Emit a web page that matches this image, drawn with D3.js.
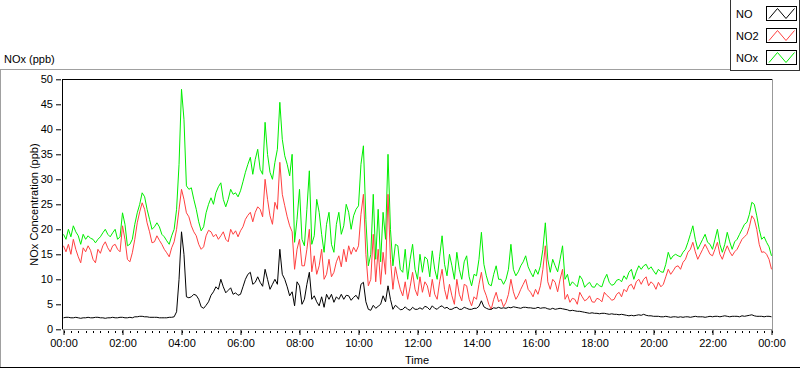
<!DOCTYPE html>
<html>
<head>
<meta charset="utf-8">
<script src="https://cdn.jsdelivr.net/npm/d3@7"></script>
<style>
  body { margin: 0; background: #fff; }
  text { font-family: "Liberation Sans", Arial, sans-serif; font-size: 11px; fill: #000; }
</style>
</head>
<body>
<div id="chart"></div>
<script>

// samples every 5 minutes, 00:00 -> 24:00 (one row per hour)
var stepMinutes = 5;

var seriesNames = ["NO", "NO2", "NOx"];

var noValues = [
  2.3, 2.4, 2.4, 2.3, 2.3, 2.4, 2.3, 2.2, 2.3, 2.3, 2.4, 2.3,      // 00:00
  2.3, 2.4, 2.4, 2.3, 2.3, 2.2, 2.3, 2.3, 2.4, 2.3, 2.3, 2.4,      // 01:00
  2.4, 2.3, 2.3, 2.4, 2.3, 2.5, 2.5, 2.6, 2.6, 2.5, 2.5, 2.4,      // 02:00
  2.4, 2.4, 2.4, 2.3, 2.3, 2.3, 2.3, 2.4, 2.4, 2.5, 3.5, 10,       // 03:00
  19.5, 15, 6.5, 6.3, 6.5, 7, 6.8, 6, 4.5, 4.2, 4.8, 5.5,          // 04:00
  6.8, 7.5, 8.5, 8, 10, 8.5, 7.3, 7.8, 8.3, 7, 7.3, 6.8,           // 05:00
  7, 8.5, 10, 11, 11.4, 9, 9.4, 10.5, 9.4, 8.6, 12, 10,            // 06:00
  8, 9, 10, 9, 16, 11, 10, 8.5, 6.7, 7.5, 4.7, 9.5,                // 07:00
  8.7, 5, 6, 9, 11.4, 6, 6.7, 5.5, 4.7, 6.5, 4.4, 7,               // 08:00
  6, 7, 5.4, 6.5, 6, 7, 6, 6.8, 6.7, 5.8, 6.4, 6.8,                // 09:00
  6, 9, 9.4, 5.5, 4, 3.8, 4.8, 4.2, 4.6, 5, 6.7, 5.5,              // 10:00
  8.7, 6, 4, 4.8, 4.4, 3.9, 4, 4.5, 4, 3.8, 4.4, 4,                // 11:00
  4, 4.3, 4, 4.6, 4.4, 3.9, 4.7, 4.2, 4, 4.5, 4.7, 4.2,            // 12:00
  4.4, 4, 4, 4.3, 4.4, 4, 4, 4.4, 4.2, 4, 4, 4.2,                  // 13:00
  4.2, 4.6, 5.7, 4.5, 4.2, 4, 4, 4.3, 4.2, 4.4, 4.2, 4.3,          // 14:00
  4.2, 4.4, 4.3, 4.5, 4.4, 4.3, 4.2, 4.4, 4.4, 4.3, 4.3, 4.2,      // 15:00
  4.2, 4.4, 4.2, 4.3, 4.3, 4.1, 4, 4.2, 4, 4.1, 4.2, 4.1,          // 16:00
  4, 3.9, 3.7, 3.8, 3.7, 3.6, 3.6, 3.5, 3.4, 3.3, 3.2, 3.3,        // 17:00
  3.2, 3.2, 3.1, 3.2, 3.2, 3.1, 3, 3.1, 3, 3, 2.9, 3,              // 18:00
  2.9, 2.8, 2.7, 2.8, 2.7, 2.8, 2.9, 2.8, 3, 2.8, 2.7, 2.7,        // 19:00
  2.6, 2.6, 2.6, 2.5, 2.5, 2.6, 2.5, 2.4, 2.5, 2.5, 2.4, 2.5,      // 20:00
  2.4, 2.5, 2.5, 2.4, 2.5, 2.6, 2.5, 2.5, 2.5, 2.4, 2.5, 2.6,      // 21:00
  2.5, 2.6, 2.6, 2.5, 2.6, 2.7, 2.6, 2.5, 2.6, 2.6, 2.6, 2.5,      // 22:00
  2.7, 2.6, 2.7, 2.8, 2.9, 2.7, 2.6, 2.6, 2.6, 2.5, 2.6, 2.6,      // 23:00
  2.5                                                              // 24:00
];

var no2Values = [
  16.7, 15.5, 17, 15, 18, 16, 14.5, 13.3, 16.3, 15.5, 16.7, 15.8,  // 00:00
  14, 13.3, 16, 15.2, 16.7, 17.5, 16.3, 15.5, 16.7, 17, 16, 15.5,  // 01:00
  20.7, 18, 14, 13.5, 15.3, 18, 21.3, 23.5, 25.3, 24, 21.3, 19.5,  // 02:00
  17.3, 17.5, 18.7, 17.8, 17, 16, 15.3, 14.5, 16.3, 17.5, 20, 24,  // 03:00
  28, 26, 23.3, 22.5, 20.7, 19.5, 18.7, 17, 16, 16.5, 18.7, 19.8,  // 04:00
  19.5, 18.5, 19, 18, 18.7, 19.5, 18, 17.5, 20, 19, 19.7, 18.5,    // 05:00
  19.7, 20.5, 22, 22.8, 23.4, 21.5, 23.4, 24.5, 24, 22.5, 30, 26,  // 06:00
  22.7, 21, 25.4, 24, 33.4, 27, 24.7, 22.5, 20.7, 19.5, 12, 16,    // 07:00
  18, 12.7, 12.7, 16, 20, 11.5, 14.7, 11, 12.7, 16, 10, 11,        // 08:00
  14, 10.5, 11.4, 13.5, 14.7, 12.5, 16, 13.5, 16.7, 15, 16.4, 15.5, // 09:00
  16.7, 23, 27, 15, 8.7, 10, 19, 9.5, 16, 9, 15.4, 11,             // 10:00
  27, 14, 8, 12.5, 10, 8, 6.7, 9.5, 6, 8.5, 11.4, 8,               // 11:00
  6.7, 10.5, 7.4, 9.5, 8.7, 6.5, 10, 7, 6, 9.5, 12, 8,             // 12:00
  6, 9, 6.7, 5, 10, 7, 5.7, 9, 8.7, 6, 4.7, 6.5,                   // 13:00
  6, 9, 11.4, 8, 6.7, 5, 4, 6, 7.4, 5.5, 6, 4.5,                   // 14:00
  5.4, 7, 10, 7.5, 6, 6.8, 8, 9, 10, 8, 7.4, 6.5,                  // 15:00
  8, 7, 8.7, 12, 16.7, 9.5, 8, 10, 9.4, 7.5, 10, 12,               // 16:00
  6, 7, 5.4, 6.2, 6, 5, 7.4, 6.5, 5.7, 6, 6.7, 5.5,                // 17:00
  5.4, 6.2, 6, 5.5, 7.4, 6.8, 6.4, 5.8, 6, 7, 7.4, 6.5,            // 18:00
  8, 7.5, 8.7, 9, 8, 9.5, 10, 9, 10, 10.5, 8.7, 9.5,               // 19:00
  9, 8, 9.4, 8.5, 9, 10.5, 12, 11, 11.7, 12.5, 12.7, 12,           // 20:00
  13.4, 14, 15.4, 16, 17.4, 15.5, 14, 15, 16, 17, 16, 15,          // 21:00
  14.7, 16, 17.4, 15, 14, 15.5, 16.7, 15.5, 14.7, 15.5, 16, 17,    // 22:00
  18, 18.5, 19, 20.5, 22.7, 22, 20, 17, 15.4, 15.5, 15, 14,        // 23:00
  12                                                               // 24:00
];

var noxValues = [
  19, 18, 20, 18.5, 20.7, 19.5, 18.7, 17, 19, 18, 18.7, 18.2,      // 00:00
  18, 17.3, 18, 18.5, 19.3, 20, 19, 18.5, 19.3, 20, 18, 18.5,      // 01:00
  23.3, 21, 16.7, 17, 18, 21, 23.3, 25, 27.3, 26.5, 24, 22,        // 02:00
  20, 20.5, 21.3, 20.5, 19, 18.5, 17.7, 17, 18.7, 20, 24, 33,      // 03:00
  48, 42, 28.7, 28, 28.3, 26, 24, 21.5, 19.7, 20.5, 23.3, 25,      // 04:00
  26.3, 25, 27.3, 28.5, 29.3, 26, 24.5, 26, 28, 27, 27.3, 26.5,    // 05:00
  27.7, 29.5, 31.4, 33, 34.4, 31, 34, 36, 32, 31, 41.4, 35,        // 06:00
  31.4, 30, 33.4, 36, 45.4, 38, 34.7, 33, 30.7, 35, 17.4, 22,      // 07:00
  28, 18, 16.7, 24, 31.7, 17, 18.7, 26, 23.4, 19, 15.4, 21,        // 08:00
  23.4, 17, 15.4, 21, 23.4, 19, 20.7, 25, 23.4, 20, 22.7, 24,      // 09:00
  24.7, 33, 36.7, 22, 12.7, 15, 27, 14, 24, 13.5, 23.4, 18,        // 10:00
  35, 20, 12.7, 17, 16.7, 12, 11.4, 16, 10, 14, 17, 12,            // 11:00
  10, 15, 11.4, 14.5, 14, 10.5, 15.7, 12, 10, 14.5, 18.7, 13,      // 12:00
  10.7, 15, 12.7, 10, 15.4, 12, 10, 13.5, 14.7, 10.5, 8.7, 11,     // 13:00
  10.7, 14, 19.4, 13, 10.7, 9, 8.7, 11, 12.7, 10, 10, 9,           // 14:00
  10, 12, 17, 12, 10.7, 11.5, 12.7, 13.5, 14.7, 12.5, 11.4, 10.5,  // 15:00
  12, 11, 12.7, 16, 21.3, 14, 11.4, 14, 12.7, 11.5, 14, 16.7,      // 16:00
  10, 11, 8.7, 9.5, 9, 8.5, 10.7, 10, 8.4, 9, 9.4, 8.5,            // 17:00
  8.4, 9.2, 8.7, 8.5, 10, 11, 9.4, 8.8, 9, 9.8, 10, 9.5,           // 18:00
  10.7, 10, 11.4, 12, 10, 11.5, 12.7, 12, 12.7, 13, 12, 12.5,      // 19:00
  11.7, 11, 12, 11.5, 11.4, 13, 15.4, 14, 14.7, 15, 14.7, 14.5,    // 20:00
  15.4, 16, 17.4, 19, 20.7, 18, 16, 17, 18, 19, 17.4, 17,          // 21:00
  16, 18, 20, 17, 15.4, 17, 19.4, 17.5, 16, 17.5, 18, 19,          // 22:00
  20, 21, 21.4, 23, 25.4, 25, 22.7, 20, 18, 18.5, 17.4, 16.5,      // 23:00
  14.7                                                             // 24:00
];

var seriesColors = ["#000000", "#ff4040", "#00ee00"];

var xTickHours = [0, 2, 4, 6, 8, 10, 12, 14, 16, 18, 20, 22, 24];
var xTickLabels = ["00:00", "02:00", "04:00", "06:00", "08:00", "10:00", "12:00",
                   "14:00", "16:00", "18:00", "20:00", "22:00", "00:00"];
var yTickValues = [0, 5, 10, 15, 20, 25, 30, 35, 40, 45, 50];

//--------------------------------------------------------------------------
//
// chart
//

var outerWidth = 800,
    outerHeight = 369;

var plot = {left: 62, top: 79, right: 772, bottom: 330};

var svg = d3.select("#chart").append("svg")
    .attr("width", outerWidth)
    .attr("height", outerHeight);

// panel frame
svg.append("line").attr("x1", 0).attr("x2", 730).attr("y1", 69.5).attr("y2", 69.5)
    .attr("stroke", "#a0a0a0");
svg.append("line").attr("x1", 0.5).attr("x2", 0.5).attr("y1", 69).attr("y2", 368)
    .attr("stroke", "#a0a0a0");
svg.append("line").attr("x1", 0).attr("x2", 800).attr("y1", 367.5).attr("y2", 367.5)
    .attr("stroke", "#000");

svg.append("text")
    .attr("x", 4)
    .attr("y", 63)
    .text("NOx (ppb)");

// scales
var x = d3.scaleLinear().domain([0, 24]).range([63.5, 771.5]);
var y = d3.scaleLinear().domain([0, 50]).range([329.3, 79.3]);

// plot area frame
svg.append("rect")
    .attr("x", plot.left)
    .attr("y", plot.top)
    .attr("width", plot.right - plot.left)
    .attr("height", plot.bottom - plot.top)
    .attr("fill", "#fff");

svg.append("clipPath")
    .attr("id", "plot-area")
    .append("rect")
    .attr("x", plot.left + 1)
    .attr("y", plot.top + 1)
    .attr("width", plot.right - plot.left - 1)
    .attr("height", plot.bottom - plot.top - 1);

// data lines
var allSeries = [noValues, no2Values, noxValues];
var line = d3.line()
    .x(function(d, i) { return x(i * stepMinutes / 60); })
    .y(function(d) { return y(d); });

var lines = svg.append("g").attr("clip-path", "url(#plot-area)");
[2, 1, 0].forEach(function(s) {
  lines.append("path")
      .datum(allSeries[s])
      .attr("fill", "none")
      .attr("stroke", seriesColors[s])
      .attr("stroke-width", 1)
      .attr("stroke-linejoin", "miter")
      .attr("d", line);
});

svg.append("line").attr("x1", plot.left).attr("x2", plot.right)
    .attr("y1", plot.top + 0.5).attr("y2", plot.top + 0.5).attr("stroke", "#000");
svg.append("line").attr("x1", plot.left + 0.5).attr("x2", plot.left + 0.5)
    .attr("y1", plot.top).attr("y2", plot.bottom).attr("stroke", "#000");
svg.append("line").attr("x1", plot.left).attr("x2", plot.right + 1)
    .attr("y1", plot.bottom - 0.5).attr("y2", plot.bottom - 0.5).attr("stroke", "#999");
svg.append("line").attr("x1", plot.right + 0.5).attr("x2", plot.right + 0.5)
    .attr("y1", plot.top).attr("y2", plot.bottom).attr("stroke", "#999");

// y axis
var yAxis = d3.axisLeft(y)
    .tickValues(yTickValues)
    .tickSize(5)
    .tickPadding(3);

var yG = svg.append("g")
    .attr("transform", "translate(" + (plot.left - 1) + ",0)")
    .call(yAxis);
yG.select(".domain").remove();
yG.selectAll("text").style("font-family", "Liberation Sans, Arial, sans-serif")
    .style("font-size", "11px").attr("fill", "#000");

svg.append("text")
    .attr("transform", "translate(38," + ((plot.top + plot.bottom) / 2) + ") rotate(-90)")
    .attr("text-anchor", "middle")
    .text("NOx Concentration (ppb)");

// x axis, minor ticks every 15 minutes
var minorHours = d3.range(0, 24.01, 0.25);
svg.append("g")
    .selectAll("line")
    .data(minorHours)
    .enter().append("line")
    .attr("x1", function(d) { return Math.round(x(d)) + 0.5; })
    .attr("x2", function(d) { return Math.round(x(d)) + 0.5; })
    .attr("y1", plot.bottom + 1)
    .attr("y2", plot.bottom + 3)
    .attr("stroke", "#000");

var xAxis = d3.axisBottom(x)
    .tickValues(xTickHours)
    .tickFormat(function(d, i) { return xTickLabels[i]; })
    .tickSize(5)
    .tickPadding(4);

var xG = svg.append("g")
    .attr("transform", "translate(0," + plot.bottom + ")")
    .call(xAxis);
xG.select(".domain").remove();
xG.selectAll("text").style("font-family", "Liberation Sans, Arial, sans-serif")
    .style("font-size", "11px").attr("fill", "#000");

svg.append("text")
    .attr("x", 417)
    .attr("y", 364)
    .attr("text-anchor", "middle")
    .text("Time");

//--------------------------------------------------------------------------
//
// legend
//

var legend = svg.append("g");

legend.append("rect")
    .attr("x", 730.5)
    .attr("y", -1)
    .attr("width", 69)
    .attr("height", 71.5)
    .attr("fill", "#fff")
    .attr("stroke", "#333");

var items = legend.selectAll(".item")
    .data(seriesNames)
    .enter().append("g")
    .attr("class", "item")
    .attr("transform", function(d, i) { return "translate(0," + (i * 22) + ")"; });

items.append("text")
    .attr("x", 736)
    .attr("y", 17.5)
    .text(function(d) { return d; });

items.append("rect")
    .attr("x", 766.5)
    .attr("y", 6.5)
    .attr("width", 30)
    .attr("height", 14)
    .attr("fill", "#fff")
    .attr("stroke", "#000");

items.append("polyline")
    .attr("points", "769,18.5 777.5,8.5 786,18.5 794.5,8.5")
    .attr("fill", "none")
    .attr("stroke", function(d, i) { return seriesColors[i]; });

</script>
</body>
</html>
